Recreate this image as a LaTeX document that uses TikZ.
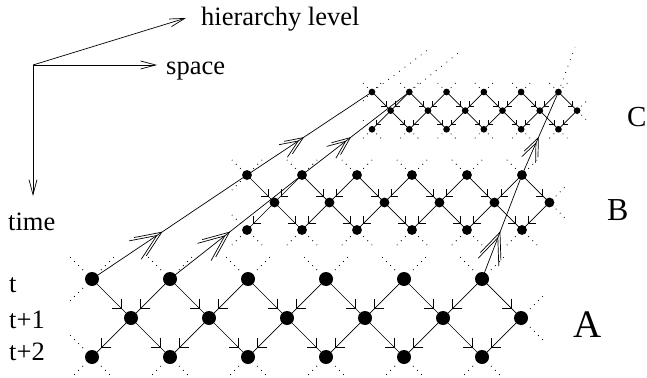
\documentclass[tikz,border=0pt]{standalone}
\usepackage{fontspec}
\setmainfont{Liberation Serif}
\usetikzlibrary{decorations.markings,arrows.meta}
\tikzset{
  dot/.style={circle, fill=black, inner sep=0pt},
  edge/.style={line width=0.7pt},
  stub/.style={line width=0.8pt, dash pattern=on 0.8pt off 5pt},
  lstub/.style={line width=0.8pt, dash pattern=on 0.8pt off 6pt},
  lbl/.style={anchor=base west, inner sep=0pt, font=\fontsize{26.5}{30}\selectfont},
  axis/.style={line width=0.7pt, -{Straight Barb[length=15pt,width=8pt]}},
  latarrow/.style={postaction={decorate}, decoration={markings,
      mark=at position 0.76 with {\draw[line width=0.7pt] (-#1,#1) -- (0pt,0pt) -- (-#1,-#1);}}},
  dbl/.style 2 args={postaction={decorate}, decoration={markings,
      mark=at position 0.45 with {\draw[line width=0.7pt] (-#1,#2) -- (0pt,0pt) -- (-#1,-#2);
        \draw[line width=0.7pt,xshift=-6pt] (-#1,#2) -- (0pt,0pt) -- (-#1,-#2);}}}
}
\newcommand\mylattice[4]{%
  \pgfmathsetmacro\hh{39*#4}%
  \pgfmathsetlengthmacro\dd{14*#4}%
  \pgfmathsetlengthmacro\bb{7*#4}%
  \pgfmathsetmacro\sa{9*#4}%
  \pgfmathsetmacro\sb{13*#4}%
  \foreach \k in {0,...,5} {
    \node[dot,minimum size=\dd] (#1t\k) at ({#2+2*\hh*\k},{#3}) {};
    \node[dot,minimum size=\dd] (#1m\k) at ({#2+\hh+2*\hh*\k},{#3+\hh}) {};
    \node[dot,minimum size=\dd] (#1b\k) at ({#2+2*\hh*\k},{#3+2*\hh}) {};
  }
  \foreach \k in {0,...,5} {
    \draw[edge,latarrow=\bb] (#1t\k.center) -- (#1m\k.center);
    \draw[edge,latarrow=\bb] (#1m\k.center) -- (#1b\k.center);
    \draw[stub] (#1t\k.center) ++(-\sa,-\sa) -- ++(-\sb,-\sb);
    \draw[stub] (#1t\k.center) ++(\sa,-\sa) -- ++(\sb,-\sb);
    \draw[stub] (#1b\k.center) ++(-\sa,\sa) -- ++(-\sb,\sb);
    \draw[stub] (#1b\k.center) ++(\sa,\sa) -- ++(\sb,\sb);
  }
  \foreach \k [evaluate=\k as \j using int(\k-1)] in {1,...,5} {
    \draw[edge,latarrow=\bb] (#1t\k.center) -- (#1m\j.center);
  }
  \foreach \k [evaluate=\k as \j using int(\k+1)] in {0,...,4} {
    \draw[edge,latarrow=\bb] (#1m\k.center) -- (#1b\j.center);
  }
  \draw[stub] (#1t0.center) ++(-\sa,\sa) -- ++(-\sb,\sb);
  \draw[stub] (#1b0.center) ++(-\sa,-\sa) -- ++(-\sb,-\sb);
  \draw[stub] (#1m5.center) ++(\sa,-\sa) -- ++(\sb,-\sb);
  \draw[stub] (#1m5.center) ++(\sa,\sa) -- ++(\sb,\sb);
}
\begin{document}
\begin{tikzpicture}[x=1pt,y=-1pt]
\useasboundingbox (0,0) rectangle (647,377);
% axes
\coordinate (o) at (33,65);
\coordinate (hx) at (186,18);
\coordinate (sx) at (157,65);
\coordinate (tx) at (33,196);
\draw[axis] (o) -- (hx);
\draw[axis] (o) -- (sx);
\draw[axis] (o) -- (tx);
\node[lbl] (hl) at (201,26) {hierarchy level};
\node[lbl] (sl) at (166,75) {space};
\node[lbl] (tl) at (8,230) {time};
\node[lbl] (t0) at (9,292) {t};
\node[lbl] (t1) at (9,328) {t+1};
\node[lbl] (t2) at (9,360) {t+2};
% lattices
\mylattice{A}{92}{279}{1}
\mylattice{B}{247}{175}{0.705}
\mylattice{C}{372}{92}{0.478}
% hierarchy lines
\draw[edge,dbl={26pt}{11pt}] (At0.center) -- (Bt0.center);
\draw[edge,dbl={26pt}{11pt}] (At1.center) -- (Bt1.center);
\draw[edge,dbl={26pt}{11pt}] (At5.center) -- (Bt5.center);
\draw[edge,dbl={18pt}{7.5pt}] (Bt0.center) -- (Ct0.center);
\draw[edge,dbl={18pt}{7.5pt}] (Bt1.center) -- (Ct1.center);
\draw[edge,dbl={18pt}{7.5pt}] (Bt5.center) -- (Ct5.center);
\coordinate (D0) at (429,49);
\coordinate (D1) at (462,50);
\coordinate (D5) at (575,47);
\draw[lstub] (Ct0.center) -- (D0);
\draw[lstub] (Ct1.center) -- (D1);
\draw[lstub] (Ct5.center) -- (D5);
% level labels
\node[anchor=base west, inner sep=0pt, font=\fontsize{39}{40}\selectfont] (LA) at (573,337) {A};
\node[anchor=base west, inner sep=0pt, font=\fontsize{32}{34}\selectfont] (LB) at (607,220) {B};
\node[anchor=base west, inner sep=0pt, font=\fontsize{29}{30}\selectfont] (LC) at (627,126) {C};
\end{tikzpicture}
\end{document}
